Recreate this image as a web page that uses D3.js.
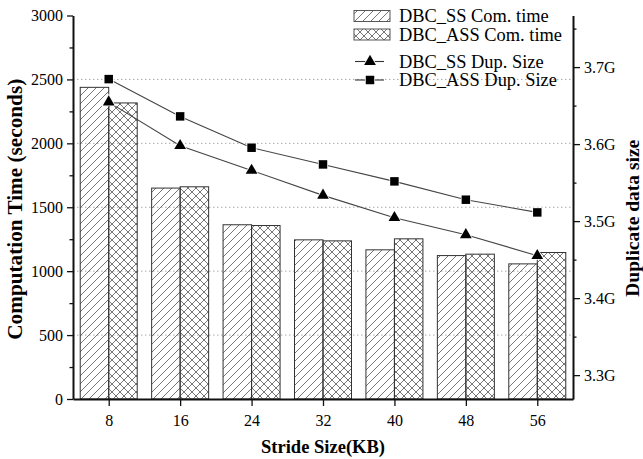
<!DOCTYPE html>
<html>
<head>
<meta charset="utf-8">
<script src="https://cdn.jsdelivr.net/npm/d3@7"></script>
<style>
  body { margin: 0; background: #fff; }
  svg { display: block; }
</style>
</head>
<body>
<div id="root"></div>
<script>
// data
const strides = [8, 16, 24, 32, 40, 48, 56];
const ssTime = [2438, 1650, 1363, 1245, 1167, 1122, 1057];
const assTime = [2316, 1660, 1357, 1237, 1253, 1133, 1146];
const ssDup = [3.6545, 3.5979, 3.5658, 3.5334, 3.5044, 3.4823, 3.4551];
const assDup = [3.6844, 3.6360, 3.5953, 3.5736, 3.5516, 3.5278, 3.5113];
const leftTicks = [0, 500, 1000, 1500, 2000, 2500, 3000];
const rightTicks = [3.3, 3.4, 3.5, 3.6, 3.7];
const legendNames = ["DBC_SS Com. time", "DBC_ASS Com. time", "DBC_SS Dup. Size", "DBC_ASS Dup. Size"];

const W = 643, H = 459;
const plotL = 73, plotR = 573, plotT = 15.5, plotB = 399;
const serif = '"Liberation Serif", "Times New Roman", Times, serif';

const svg = d3.select('#root').append('svg')
  .attr('width', W).attr('height', H)
  .attr('font-family', serif);

// hatch patterns
const defs = svg.append('defs');
let p1 = defs.append('pattern').attr('id', 'hatchSS')
  .attr('patternUnits', 'userSpaceOnUse').attr('width', 8).attr('height', 8);
p1.append('path').attr('d', 'M0,8 L8,0 M-2,2 L2,-2 M6,10 L10,6')
  .attr('stroke', '#666').attr('stroke-width', 0.9);
let p2 = defs.append('pattern').attr('id', 'hatchASS')
  .attr('patternUnits', 'userSpaceOnUse').attr('width', 8).attr('height', 8);
p2.append('path').attr('d', 'M0,8 L8,0 M-2,2 L2,-2 M6,10 L10,6 M0,0 L8,8 M-2,6 L2,10 M6,-2 L10,2')
  .attr('stroke', '#666').attr('stroke-width', 0.9);

// scales
let x = d3.scalePoint().domain(strides).range([plotL, plotR]).padding(0.5);
let yL = d3.scaleLinear().domain([0, 3000]).range([plotB, plotT]);
let yR = d3.scaleLinear().domain([3.269, 3.767]).range([plotB, plotT]);
const bw = 28.5;

// grid lines
svg.append('g').selectAll('line')
  .data(leftTicks.filter(d => d > 0 && d < 3000))
  .enter().append('line')
  .attr('x1', plotL).attr('x2', plotR)
  .attr('y1', d => yL(d)).attr('y2', d => yL(d))
  .attr('stroke', '#aaa').attr('stroke-width', 1)
  .attr('stroke-dasharray', '1.5,2.5');

// bars
let bars = svg.append('g');
strides.forEach((s, i) => {
  bars.append('rect')
    .attr('x', x(s) - bw).attr('y', yL(ssTime[i]))
    .attr('width', bw).attr('height', plotB - yL(ssTime[i]))
    .attr('fill', 'url(#hatchSS)').attr('stroke', '#333').attr('stroke-width', 1);
  bars.append('rect')
    .attr('x', x(s)).attr('y', yL(assTime[i]))
    .attr('width', bw).attr('height', plotB - yL(assTime[i]))
    .attr('fill', 'url(#hatchASS)').attr('stroke', '#333').attr('stroke-width', 1);
});

// lines
let line = d3.line().x((d, i) => x(strides[i])).y(d => yR(d));
let triangle = d3.symbol().type(d3.symbolTriangle).size(60);
let square = d3.symbol().type(d3.symbolSquare).size(72);

function drawSeries(vals, sym) {
  svg.append('path').datum(vals)
    .attr('d', line).attr('fill', 'none')
    .attr('stroke', '#444').attr('stroke-width', 1.1);
  svg.append('g').selectAll('path')
    .data(vals).enter().append('path')
    .attr('d', sym)
    .attr('transform', (d, i) => `translate(${x(strides[i])},${yR(d)})`)
    .attr('fill', '#000').attr('stroke', '#fff').attr('stroke-width', 1.5)
    .style('paint-order', 'stroke');
}
drawSeries(ssDup, triangle);
drawSeries(assDup, square);

// left axis
svg.append('g').attr('transform', `translate(${plotL},0)`)
  .call(d3.axisLeft(yL).tickValues(leftTicks).tickSize(6).tickPadding(4).tickSizeOuter(0)
    .tickFormat(d3.format('d')));
svg.append('g').attr('transform', `translate(${plotL},0)`)
  .call(d3.axisLeft(yL).tickValues(d3.range(250, 3000, 500)).tickSize(3.5).tickFormat('').tickSizeOuter(0))
  .select('.domain').remove();

// right axis
svg.append('g').attr('transform', `translate(${plotR},0)`)
  .call(d3.axisRight(yR).tickValues(rightTicks).tickSize(7).tickPadding(4).tickSizeOuter(0)
    .tickFormat(d => d3.format('.1f')(d) + 'G'));
svg.append('g').attr('transform', `translate(${plotR},0)`)
  .call(d3.axisRight(yR).tickValues([3.35, 3.45, 3.55, 3.65, 3.75]).tickSize(3.5).tickFormat('').tickSizeOuter(0))
  .select('.domain').remove();

// bottom axis
svg.append('g').attr('transform', `translate(0,${plotB})`)
  .call(d3.axisBottom(x).tickSize(7).tickPadding(9).tickSizeOuter(0));

svg.selectAll('.domain').attr('stroke', '#111').attr('stroke-width', 2);
svg.selectAll('.tick line').attr('stroke', '#111').attr('stroke-width', 1.3);
svg.selectAll('.tick').select('text')
  .attr('font-family', serif)
  .attr('font-size', 16).attr('fill', '#000');
svg.selectAll('g').filter(function () { return this.getAttribute('font-family') == 'sans-serif'; })
  .attr('font-family', serif).attr('font-size', 16);

// shrink/grow a title so it spans the same length as in the figure
function fitTo(sel, size, target) {
  sel.attr('font-size', size);
  let len = sel.node().getComputedTextLength();
  if (len > 0) sel.attr('font-size', size * target / len);
}

// axis titles
let tL = svg.append('text')
  .attr('transform', `translate(22,${(plotT + plotB) / 2 + 2}) rotate(-90)`)
  .attr('text-anchor', 'middle')
  .attr('font-family', serif).attr('font-weight', 'bold')
  .text('Computation Time (seconds)');
fitTo(tL, 20.5, 261);
let tR = svg.append('text')
  .attr('transform', `translate(639,${(plotT + plotB) / 2 + 11}) rotate(-90)`)
  .attr('text-anchor', 'middle')
  .attr('font-family', serif).attr('font-weight', 'bold')
  .text('Duplicate data size');
fitTo(tR, 19.5, 157);
let tB = svg.append('text')
  .attr('x', (plotL + plotR) / 2).attr('y', 453)
  .attr('text-anchor', 'middle')
  .attr('font-family', serif).attr('font-weight', 'bold')
  .text('Stride Size(KB)');
fitTo(tB, 19, 124);

// legend
let lg = svg.append('g');
const rowY = [16, 34.5, 61.5, 80];
lg.append('rect').attr('x', 354).attr('y', rowY[0] - 5.5).attr('width', 36).attr('height', 11)
  .attr('fill', 'url(#hatchSS)').attr('stroke', '#555').attr('stroke-width', 1);
lg.append('rect').attr('x', 354).attr('y', rowY[1] - 5.5).attr('width', 36).attr('height', 11)
  .attr('fill', 'url(#hatchASS)').attr('stroke', '#555').attr('stroke-width', 1);
[2, 3].forEach(k => {
  lg.append('line').attr('x1', 355).attr('x2', 384).attr('y1', rowY[k]).attr('y2', rowY[k])
    .attr('stroke', '#333').attr('stroke-width', 1.1);
  lg.append('path').attr('d', k == 2 ? triangle : square)
    .attr('transform', `translate(370,${rowY[k]})`)
    .attr('fill', '#000').attr('stroke', '#fff').attr('stroke-width', 1.5)
    .style('paint-order', 'stroke');
});
lg.selectAll('text').data(legendNames).enter().append('text')
  .attr('x', 399).attr('y', (d, i) => rowY[i] + 6)
  .attr('font-family', serif)
  .attr('font-size', 18.4)
  .text(d => d);
</script>
</body>
</html>
